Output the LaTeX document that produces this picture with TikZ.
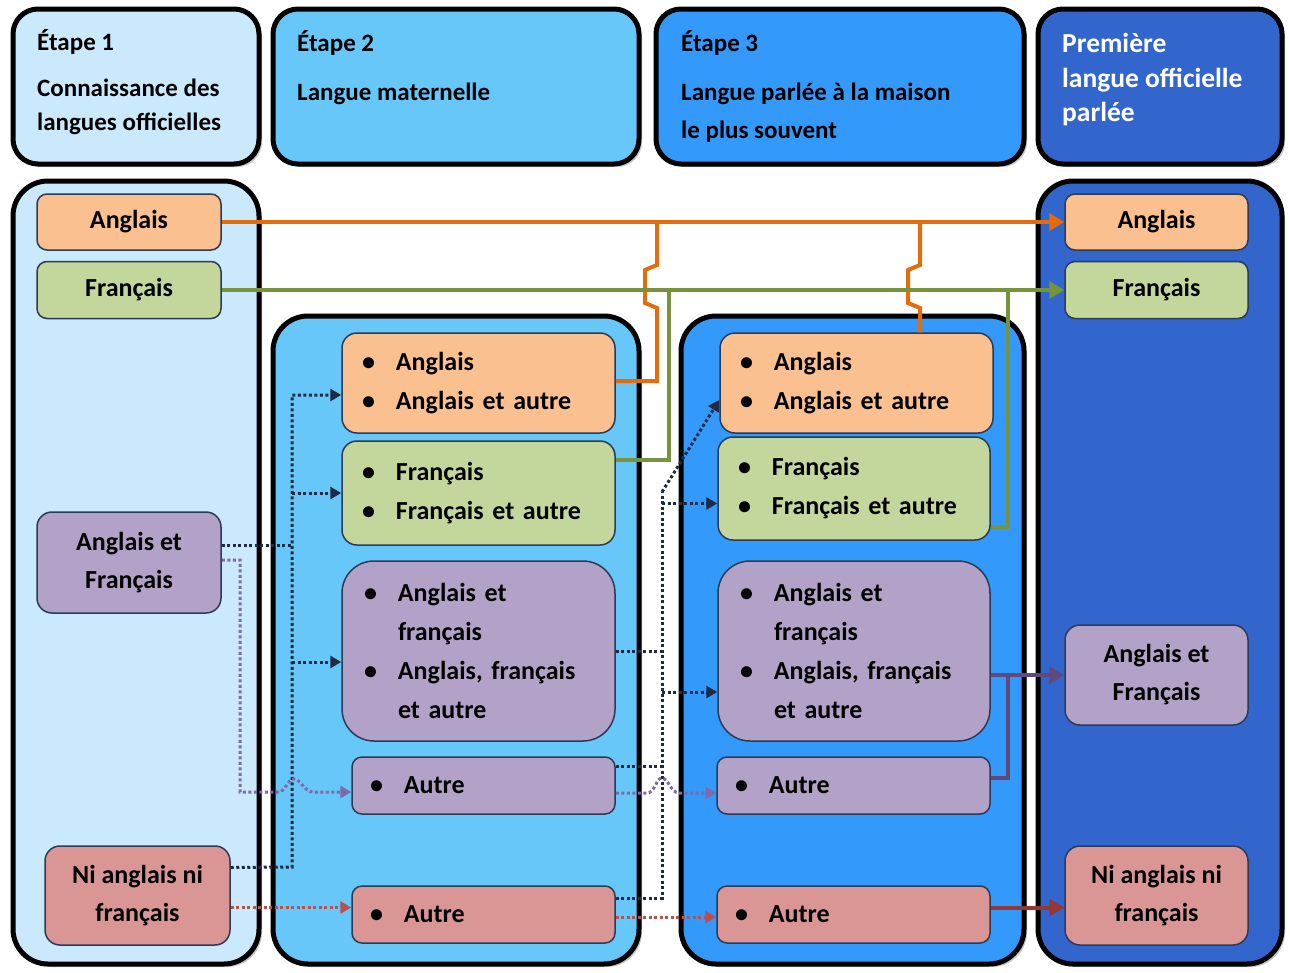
\documentclass[tikz,border=0pt]{standalone}
\usepackage{fontspec}
\setmainfont{Carlito}
\usetikzlibrary{arrows.meta,shadows,calc}
\definecolor{cA}{HTML}{CBE9FC}
\definecolor{cB}{HTML}{66C7F8}
\definecolor{cC}{HTML}{3399FA}
\definecolor{cD}{HTML}{3366CC}
\definecolor{fOr}{HTML}{FAC090}
\definecolor{fGr}{HTML}{C3D69B}
\definecolor{fPu}{HTML}{B3A2C7}
\definecolor{fRe}{HTML}{D99694}
\definecolor{lOr}{HTML}{E46C0A}
\definecolor{lGr}{HTML}{77933C}
\definecolor{lPu}{HTML}{604A7B}
\definecolor{lRe}{HTML}{953735}
\definecolor{navy}{HTML}{1F2A44}
\definecolor{dPu}{HTML}{7E6AA8}
\definecolor{dRe}{HTML}{B9504C}
\definecolor{bline}{HTML}{2B3A55}
\newcommand\bu{\makebox[34pt][l]{\textbullet}}
\newcommand\ind{\hspace*{34pt}}
\begin{document}
\begin{tikzpicture}[x=1pt,y=-1pt,
  font=\bfseries\fontsize{26}{39}\selectfont,
  col/.style={draw=black, line width=5pt, rounded corners=35pt, inner sep=0pt,
    drop shadow={shadow xshift=3pt,shadow yshift=-3pt,fill=black!45,opacity=0.5}},
  hdr/.style={col, rounded corners=25pt},
  htxt/.style={anchor=base west, inner sep=0pt, font=\bfseries\fontsize{25}{30}\selectfont},
  bx/.style={draw=bline, line width=1.5pt, rounded corners=10pt, inner sep=0pt, align=center},
  bl/.style={bx, align=left, inner xsep=20pt, inner ysep=0pt},
  ol/.style={draw=lOr, line width=4pt, line join=miter},
  gl/.style={draw=lGr, line width=4pt, line join=miter},
  pl/.style={draw=lPu, line width=4pt, line join=miter},
  rl/.style={draw=lRe, line width=4pt},
  bigtip/.style={-{Triangle[length=15pt,width=17pt]}},
  dl/.style={draw=navy, line width=3pt, dash pattern=on 3pt off 2.5pt},
  pdl/.style={dl, draw=dPu},
  rdl/.style={dl, draw=dRe},
  smalltip/.style={-{Triangle[length=11pt,width=12pt]}}
]
\fill[white] (0,0) rectangle (1290,972);
\useasboundingbox (0,0) rectangle (1290,972);

% headers
\node[hdr, fill=cA, minimum width=246pt, minimum height=155pt] (H1) at (136,86.5) {};
\node[hdr, fill=cB, minimum width=366pt, minimum height=155pt] (H2) at (456,86.5) {};
\node[hdr, fill=cC, minimum width=368pt, minimum height=155pt] (H3) at (840,86.5) {};
\node[hdr, fill=cD, minimum width=244pt, minimum height=155pt] (H4) at (1160,86.5) {};

\node[htxt] (h1a) at (37,50) {Étape 1};
\node[htxt] (h1b) at (37,96) {Connaissance des};
\node[htxt] (h1c) at (37,130) {langues officielles};
\node[htxt] (h2a) at (297,51) {Étape 2};
\node[htxt] (h2b) at (297,100) {Langue maternelle};
\node[htxt] (h3a) at (681,51) {Étape 3};
\node[htxt] (h3b) at (681,100) {Langue parlée à la maison};
\node[htxt] (h3c) at (681,138) {le plus souvent};
\node[htxt, text=white, font=\bfseries\fontsize{27.5}{30}\selectfont] (h4a) at (1062,52) {Première};
\node[htxt, text=white, font=\bfseries\fontsize{27.5}{30}\selectfont] (h4b) at (1062,87) {langue officielle};
\node[htxt, text=white, font=\bfseries\fontsize{27.5}{30}\selectfont] (h4c) at (1062,121) {parlée};

% columns
\node[col, fill=cA, minimum width=246pt, minimum height=783pt] (C1) at (136,572.5) {};
\node[col, fill=cB, minimum width=366pt, minimum height=648pt] (C2) at (456,640) {};
\node[col, fill=cC, minimum width=343pt, minimum height=648pt] (C3) at (852.5,640) {};
\node[col, fill=cD, minimum width=244pt, minimum height=783pt] (C4) at (1160,572.5) {};

% column 1
\node[bx, fill=fOr, minimum width=184pt, minimum height=56pt] (A1) at (129,222) {Anglais};
\node[bx, fill=fGr, minimum width=184pt, minimum height=57pt] (F1) at (129,290) {Français};
\node[bx, fill=fPu, minimum width=184pt, minimum height=101pt, rounded corners=15pt, font=\bfseries\fontsize{26}{38}\selectfont] (AF1) at (129,562.5) {Anglais et\\Français};
\node[bx, fill=fRe, minimum width=185pt, minimum height=99pt, rounded corners=15pt, font=\bfseries\fontsize{26}{38}\selectfont] (N1) at (137.5,895.5) {Ni anglais ni\\français};

% column 2
\node[bl, fill=fOr, minimum width=273pt, text width=233pt, minimum height=100pt, rounded corners=15pt] (A2) at (478.5,383) {\bu Anglais\\\bu Anglais et autre};
\node[bl, fill=fGr, minimum width=273pt, text width=233pt, minimum height=104pt, rounded corners=15pt] (F2) at (478.5,493) {\bu Français\\\bu Français et autre};
\node[bl, fill=fPu, minimum width=273pt, text width=229pt, inner xsep=22pt, minimum height=180pt, rounded corners=32pt] (AF2) at (478.5,651) {\bu Anglais et\\\ind français\\\bu Anglais, français\\\ind et autre};
\node[bl, fill=fPu, minimum width=263pt, text width=227pt, inner xsep=18pt, minimum height=57pt] (O2) at (483.5,785.5) {\bu Autre};
\node[bl, fill=fRe, minimum width=263pt, text width=227pt, inner xsep=18pt, minimum height=57pt] (N2) at (483.5,914.5) {\bu Autre};

% column 3
\node[bl, fill=fOr, minimum width=273pt, text width=233pt, minimum height=100pt, rounded corners=15pt] (A3) at (856.5,383) {\bu Anglais\\\bu Anglais et autre};
\node[bl, fill=fGr, minimum width=272pt, text width=232pt, minimum height=103pt, rounded corners=15pt] (F3) at (854,488.5) {\bu Français\\\bu Français et autre};
\node[bl, fill=fPu, minimum width=272pt, text width=228pt, inner xsep=22pt, minimum height=180pt, rounded corners=32pt] (AF3) at (854,651) {\bu Anglais et\\\ind français\\\bu Anglais, français\\\ind et autre};
\node[bl, fill=fPu, minimum width=273pt, text width=237pt, inner xsep=18pt, minimum height=57pt] (O3) at (853.5,785.5) {\bu Autre};
\node[bl, fill=fRe, minimum width=273pt, text width=237pt, inner xsep=18pt, minimum height=57pt] (N3) at (853.5,914.5) {\bu Autre};

% column 4
\node[bx, fill=fOr, minimum width=183pt, minimum height=56pt] (A4) at (1156.5,222) {Anglais};
\node[bx, fill=fGr, minimum width=183pt, minimum height=57pt] (F4) at (1156.5,290) {Français};
\node[bx, fill=fPu, minimum width=183pt, minimum height=100pt, rounded corners=15pt, font=\bfseries\fontsize{26}{38}\selectfont] (AF4) at (1156.5,675) {Anglais et\\Français};
\node[bx, fill=fRe, minimum width=183pt, minimum height=99pt, rounded corners=15pt, font=\bfseries\fontsize{26}{38}\selectfont] (N4) at (1156.5,895.5) {Ni anglais ni\\français};

% junction coordinates
\coordinate (jA2) at (657,222);
\coordinate (jA3) at (920,222);
\coordinate (jF2) at (669,290);
\coordinate (jF3) at (1008,290);
\coordinate (jAF) at (1008,675);
\coordinate (t2top) at (292,395);
\coordinate (t2bot) at (292,867);
\coordinate (t3top) at (662,492);
\coordinate (t3bot) at (662,898);

% orange
\draw[ol, bigtip] (A1.east) -- (A4.west);
\draw[ol] ([yshift=2pt]A2.east) -| (657,308) -- (645,303) -- (645,270) -- (657,265) -- (jA2);
\draw[ol] (A3.north -| jA3) -- (920,308) -- (908,303) -- (908,270) -- (920,265) -- (jA3);
% green
\draw[gl, bigtip] (F1.east) -- (F4.west);
\draw[gl] ([yshift=33pt]F2.east) -| (jF2);
\draw[gl] ([yshift=-38pt]F3.east) -| (jF3);
% purple solid
\draw[pl, bigtip] (AF3.east |- AF4.west) -- (AF4.west);
\draw[pl] ([yshift=7.5pt]O3.east) -| (jAF);
% red solid
\coordinate (n3o) at ([yshift=7pt]N3.east);
\draw[rl, bigtip] (n3o) -- (n3o -| N4.west);

% dotted, stage 1 -> 2
\coordinate (n1b) at ([yshift=28pt]N1.east);
\draw[dl, smalltip] (n1b) -- (t2bot) -- (t2top) -- (t2top -| A2.west);
\coordinate (af1o) at ([yshift=17.5pt]AF1.east);
\draw[dl] (af1o) -- (af1o -| t2top);
\draw[dl, smalltip] (t2top |- F2.west) -- (F2.west);
\coordinate (af2i) at ([yshift=-11pt]AF2.west);
\draw[dl, smalltip] (af2i -| t2top) -- (af2i);
\coordinate (af1p) at ([yshift=2.5pt]AF1.east);
\coordinate (o2i) at ([yshift=-6.5pt]O2.west);
\draw[pdl, smalltip] (af1p) -| (240,792) -- (278,792) .. controls (286,792) and (287,779) .. (294,779) .. controls (301,779) and (304,792) .. (313,792) -- (o2i);
\coordinate (n1r) at ([yshift=-12pt]N1.east);
\draw[rdl, smalltip] (n1r) -- (n1r -| N2.west);

% dotted, stage 2 -> 3
\coordinate (n2b) at ([yshift=16.5pt]N2.east);
\draw[dl] (n2b) -- (t3bot) -- (t3top);
\coordinate (a3i) at ([yshift=-17pt]A3.west);
\draw[dl, smalltip] (t3top) -- (a3i);
\draw[dl] (AF2.east) -- (AF2.east -| t3top);
\coordinate (o2b) at ([yshift=19.5pt]O2.east);
\draw[dl] (o2b) -- (o2b -| t3top);
\coordinate (f3i) at ([yshift=-15pt]F3.west);
\draw[dl, smalltip] (f3i -| t3top) -- (f3i);
\coordinate (af3i) at ([yshift=-41pt]AF3.west);
\draw[dl, smalltip] (af3i -| t3top) -- (af3i);
\coordinate (o2p) at ([yshift=-7.5pt]O2.east);
\coordinate (o3i) at ([yshift=-7.5pt]O3.west);
\draw[pdl, smalltip] (o2p) -- (647,793) .. controls (655,793) and (656,778) .. (662,778) .. controls (668,778) and (671,793) .. (679,793) -- (o3i);
\coordinate (n2r) at ([yshift=-2.5pt]N2.east);
\draw[rdl, smalltip] (n2r) -- (n2r -| N3.west);
\end{tikzpicture}
\end{document}
